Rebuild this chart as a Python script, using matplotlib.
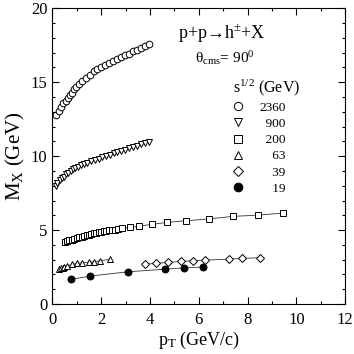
import matplotlib
matplotlib.use('Agg')
import matplotlib.pyplot as plt
from matplotlib.ticker import MultipleLocator

plt.rcParams['font.family'] = ['Liberation Serif', 'DejaVu Serif']
plt.rcParams['mathtext.fontset'] = 'custom'
plt.rcParams['mathtext.rm'] = 'Liberation Serif'
plt.rcParams['mathtext.it'] = 'Liberation Serif:italic'

# sqrt(s) = 2360 GeV
pt_2360 = [0.16, 0.27, 0.37, 0.45, 0.55, 0.64, 0.72, 0.82, 0.90, 0.98, 1.09, 1.23, 1.37, 1.53,
           1.69, 1.84, 2.01, 2.16, 2.32, 2.49, 2.65, 2.81, 2.98, 3.14, 3.31, 3.47, 3.63, 3.80, 3.96]
mx_2360 = [12.78, 13.07, 13.33, 13.56, 13.73, 13.91, 14.11, 14.29, 14.51, 14.69, 14.84, 15.07, 15.27, 15.51,
           15.76, 15.89, 16.02, 16.16, 16.31, 16.42, 16.53, 16.67, 16.80, 16.93, 17.07, 17.18, 17.31, 17.42, 17.58]

# 900 GeV
pt_900 = [0.15, 0.20, 0.30, 0.38, 0.48, 0.57, 0.66, 0.75, 0.85, 0.93, 1.04, 1.16, 1.30, 1.43, 1.58,
          1.73, 1.89, 2.05, 2.20, 2.35, 2.51, 2.66, 2.81, 2.98, 3.14, 3.31, 3.47, 3.63, 3.80, 3.96]
mx_900 = [7.95, 8.16, 8.36, 8.49, 8.62, 8.78, 8.89, 9.02, 9.11, 9.18, 9.29, 9.38, 9.47, 9.56, 9.64,
          9.73, 9.82, 9.91, 10.00, 10.09, 10.20, 10.27, 10.36, 10.44, 10.53, 10.62, 10.71, 10.80, 10.89, 10.93]

# 200 GeV
pt_200 = [0.5, 0.6, 0.7, 0.8, 0.9, 1.0, 1.1, 1.2, 1.3, 1.4, 1.5, 1.6, 1.7, 1.8, 1.9, 2.0, 2.1, 2.2,
          2.3, 2.43, 2.55, 2.7, 2.87, 3.18, 3.57, 4.09, 4.70, 5.48, 6.43, 7.42, 8.44, 9.44]
mx_200 = [4.18, 4.24, 4.30, 4.36, 4.41, 4.46, 4.51, 4.56, 4.61, 4.65, 4.69, 4.74, 4.78, 4.82, 4.86, 4.89, 4.92, 4.95,
          4.98, 5.01, 5.04, 5.08, 5.13, 5.18, 5.27, 5.39, 5.52, 5.63, 5.76, 5.93, 6.01, 6.15]

# 63 GeV
pt_63 = [0.29, 0.36, 0.43, 0.48, 0.61, 0.82, 1.02, 1.23, 1.52, 1.72, 1.94, 2.35]
mx_63 = [2.34, 2.41, 2.45, 2.52, 2.59, 2.68, 2.75, 2.79, 2.84, 2.86, 2.93, 3.02]

# 39 GeV
pt_39 = [3.80, 4.25, 4.75, 5.26, 5.75, 6.26, 7.25, 7.76, 8.51]
mx_39 = [2.70, 2.75, 2.82, 2.88, 2.93, 2.97, 3.04, 3.09, 3.13]

# 19 GeV
pt_19 = [0.77, 1.54, 3.08, 4.62, 5.39, 6.16]
mx_19 = [1.67, 1.89, 2.18, 2.36, 2.45, 2.50]

series = [
    (pt_2360, mx_2360, 'o', 'white', '2360'),
    (pt_900, mx_900, 'v', 'white', '\u2007900'),
    (pt_200, mx_200, 's', 'white', '\u2007200'),
    (pt_63, mx_63, '^', 'white', '\u2007\u200763'),
    (pt_39, mx_39, 'D', 'white', '\u2007\u200739'),
    (pt_19, mx_19, 'o', 'black', '\u2007\u200719'),
]
sizes = [4.8, 5.0, 4.3, 4.8, 3.7, 5.0]

fig = plt.figure(figsize=(3.54, 3.54), dpi=100)
ax = fig.add_axes([0.148, 0.141, 0.827, 0.836])

for (x, y, m, fc, lab), ms in zip(series, sizes):
    ax.plot(x, y, color='#333333', lw=0.6, marker=m, ms=ms, mfc=fc, mec='black', mew=0.7, label=lab)

ax.set_xlim(0, 12)
ax.set_ylim(0, 20)
ax.xaxis.set_major_locator(MultipleLocator(2))
ax.xaxis.set_minor_locator(MultipleLocator(1))
ax.yaxis.set_major_locator(MultipleLocator(5))
ax.yaxis.set_minor_locator(MultipleLocator(1))
ax.tick_params(which='both', direction='in', top=True, right=True, labelsize=12, width=0.8)
ax.tick_params(which='major', length=5)
ax.tick_params(which='minor', length=2.5)
ax.tick_params(axis='x', pad=6)
for s in ax.spines.values():
    s.set_linewidth(0.8)

ax.set_xlabel(r'$\mathrm{p_T}$ (GeV/c)', fontsize=13, labelpad=1)
ax.set_ylabel(r'$\mathrm{M_X}$ (GeV)', fontsize=15, labelpad=3)

ax.text(6.95, 18.3, 'p+p\u2192h$^{\\pm}$+X', fontsize=13, ha='center', va='center')
ax.text(7.05, 16.6, r'$\mathrm{\theta_{cms}}$= 90$^{0}$', fontsize=11, ha='center', va='center')

leg = ax.legend(loc='upper left', bbox_to_anchor=(0.585, 0.798), frameon=False, fontsize=9.5,
                title=r's$^{1/2}$ (GeV)', title_fontsize=11.5, handlelength=0.8, markerscale=1.25,
                handletextpad=1.2, labelspacing=0.3, borderpad=0.2, alignment='left')
for h in leg.legend_handles:
    h.set_linestyle('None')

fig.savefig('out.png', dpi=100)
